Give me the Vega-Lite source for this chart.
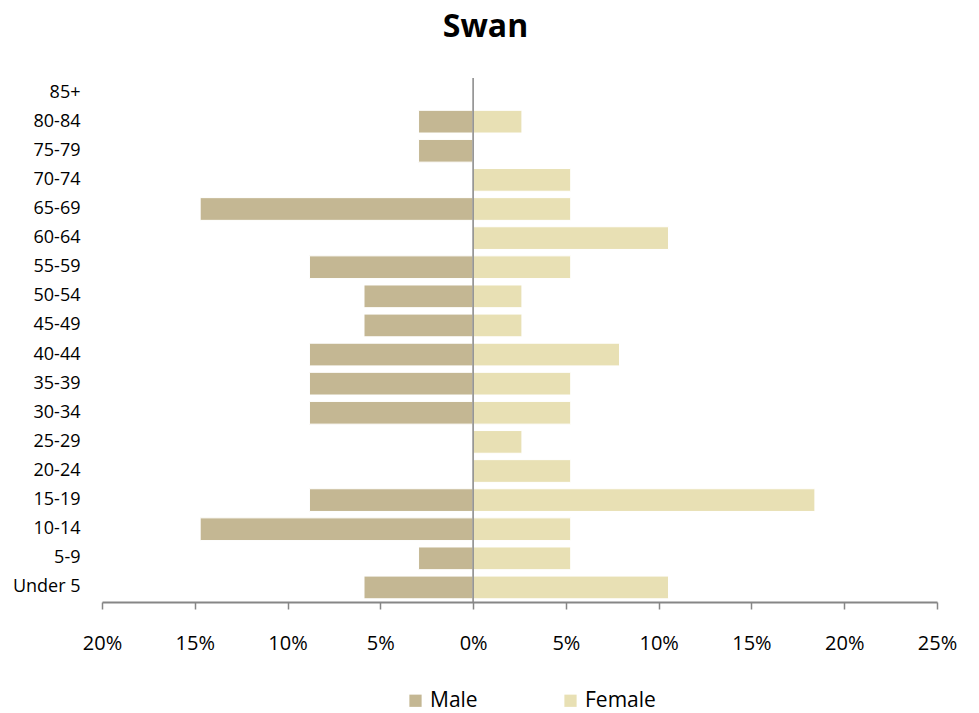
{
  "$schema": "https://vega.github.io/schema/vega-lite/v6.json",
  "width": 835,
  "height": 524,
  "autosize": {"type": "none"},
  "padding": {"left": 102, "top": 78, "right": 42, "bottom": 111},
  "background": "white",
  "config": {
    "view": {"stroke": null},
    "font": "Open Sans"
  },
  "title": {
    "text": "Swan",
    "fontSize": 32,
    "fontWeight": "bold",
    "font": "Open Sans",
    "color": "#000000",
    "anchor": "middle",
    "frame": "group",
    "dx": -34,
    "offset": 33
  },
  "data": {
    "values": [
      {"age": "85+", "sex": "Male", "pct": 0},
      {"age": "85+", "sex": "Female", "pct": 0},
      {"age": "80-84", "sex": "Male", "pct": -0.0294},
      {"age": "80-84", "sex": "Female", "pct": 0.0263},
      {"age": "75-79", "sex": "Male", "pct": -0.0294},
      {"age": "75-79", "sex": "Female", "pct": 0},
      {"age": "70-74", "sex": "Male", "pct": 0},
      {"age": "70-74", "sex": "Female", "pct": 0.0526},
      {"age": "65-69", "sex": "Male", "pct": -0.1471},
      {"age": "65-69", "sex": "Female", "pct": 0.0526},
      {"age": "60-64", "sex": "Male", "pct": 0},
      {"age": "60-64", "sex": "Female", "pct": 0.1053},
      {"age": "55-59", "sex": "Male", "pct": -0.0882},
      {"age": "55-59", "sex": "Female", "pct": 0.0526},
      {"age": "50-54", "sex": "Male", "pct": -0.0588},
      {"age": "50-54", "sex": "Female", "pct": 0.0263},
      {"age": "45-49", "sex": "Male", "pct": -0.0588},
      {"age": "45-49", "sex": "Female", "pct": 0.0263},
      {"age": "40-44", "sex": "Male", "pct": -0.0882},
      {"age": "40-44", "sex": "Female", "pct": 0.0789},
      {"age": "35-39", "sex": "Male", "pct": -0.0882},
      {"age": "35-39", "sex": "Female", "pct": 0.0526},
      {"age": "30-34", "sex": "Male", "pct": -0.0882},
      {"age": "30-34", "sex": "Female", "pct": 0.0526},
      {"age": "25-29", "sex": "Male", "pct": 0},
      {"age": "25-29", "sex": "Female", "pct": 0.0263},
      {"age": "20-24", "sex": "Male", "pct": 0},
      {"age": "20-24", "sex": "Female", "pct": 0.0526},
      {"age": "15-19", "sex": "Male", "pct": -0.0882},
      {"age": "15-19", "sex": "Female", "pct": 0.1842},
      {"age": "10-14", "sex": "Male", "pct": -0.1471},
      {"age": "10-14", "sex": "Female", "pct": 0.0526},
      {"age": "5-9", "sex": "Male", "pct": -0.0294},
      {"age": "5-9", "sex": "Female", "pct": 0.0526},
      {"age": "Under 5", "sex": "Male", "pct": -0.0588},
      {"age": "Under 5", "sex": "Female", "pct": 0.1053}
    ]
  },
  "layer": [
    {
      "mark": {"type": "bar", "stroke": "white", "strokeWidth": 1},
      "encoding": {
        "y": {
          "field": "age",
          "type": "nominal",
          "sort": ["85+", "80-84", "75-79", "70-74", "65-69", "60-64", "55-59", "50-54", "45-49", "40-44", "35-39", "30-34", "25-29", "20-24", "15-19", "10-14", "5-9", "Under 5"],
          "scale": {"paddingInner": 0.22, "paddingOuter": 0.11},
          "axis": {
            "title": null,
            "domain": false,
            "ticks": false,
            "labelPadding": 22,
            "labelFontSize": 18,
            "labelColor": "#000000",
            "labelFont": "Open Sans"
          }
        },
        "x": {
          "field": "pct",
          "type": "quantitative",
          "stack": null,
          "scale": {"domain": [-0.2, 0.25], "nice": false, "zero": false},
          "axis": {
            "title": null,
            "values": [-0.2, -0.15, -0.1, -0.05, 0, 0.05, 0.1, 0.15, 0.2, 0.25],
            "labelExpr": "format(abs(datum.value), '.0%')",
            "labelFlush": false,
            "grid": false,
            "domainColor": "#868686",
            "domainWidth": 2,
            "tickColor": "#868686",
            "tickWidth": 1.5,
            "tickSize": 7,
            "labelPadding": 24,
            "labelFontSize": 20,
            "labelColor": "#000000",
            "labelFont": "Open Sans"
          }
        },
        "color": {
          "field": "sex",
          "type": "nominal",
          "scale": {"domain": ["Male", "Female"], "range": ["#C4B793", "#E8E0B4"]},
          "legend": {
            "title": null,
            "orient": "none",
            "legendX": 303,
            "legendY": 612,
            "direction": "horizontal",
            "columns": 2,
            "symbolType": "square",
            "symbolSize": 150,
            "symbolStrokeWidth": 0,
            "labelFontSize": 21,
            "labelColor": "#000000",
            "labelFont": "Open Sans",
            "columnPadding": 82
          }
        }
      }
    },
    {
      "data": {"values": [{"zero": 0}]},
      "mark": {"type": "rule", "color": "#868686", "strokeWidth": 1.5},
      "encoding": {
        "x": {"field": "zero", "type": "quantitative"}
      }
    }
  ]
}
